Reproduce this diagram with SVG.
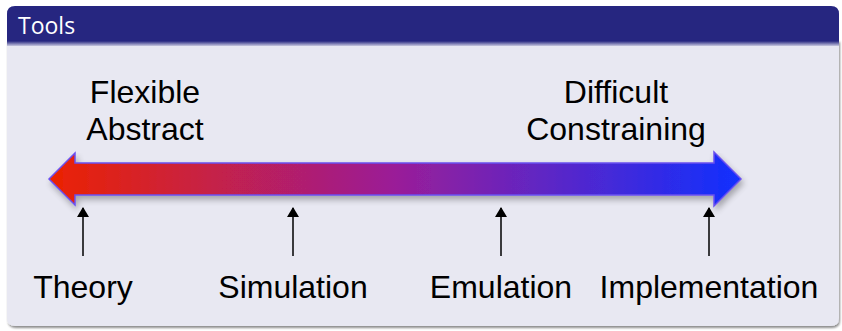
<svg xmlns="http://www.w3.org/2000/svg" width="842" height="331" viewBox="0 0 842 331">
  <defs>
    <linearGradient id="arrowGrad" x1="48" y1="0" x2="742" y2="0" gradientUnits="userSpaceOnUse">
      <stop offset="0" stop-color="#EC2200"/>
      <stop offset="0.5" stop-color="#9A1E98"/>
      <stop offset="1" stop-color="#1030FF"/>
    </linearGradient>
    <linearGradient id="headerEdge" x1="0" y1="0" x2="0" y2="1">
      <stop offset="0" stop-color="#262680"/>
      <stop offset="1" stop-color="#C8C8E0"/>
    </linearGradient>
    <filter id="shadow" x="-5%" y="-5%" width="110%" height="130%">
      <feGaussianBlur in="SourceAlpha" stdDeviation="3"/>
      <feOffset dx="2" dy="4" result="b"/>
      <feComponentTransfer><feFuncA type="linear" slope="0.3"/></feComponentTransfer>
      <feMerge><feMergeNode/><feMergeNode in="SourceGraphic"/></feMerge>
    </filter>
    <filter id="boxShadow" x="-2%" y="-2%" width="104%" height="106%">
      <feGaussianBlur in="SourceAlpha" stdDeviation="1"/>
      <feOffset dx="1" dy="2"/>
      <feComponentTransfer><feFuncA type="linear" slope="0.45"/></feComponentTransfer>
      <feMerge><feMergeNode/><feMergeNode in="SourceGraphic"/></feMerge>
    </filter>
    <marker id="tip" viewBox="0 0 10 12" refX="9" refY="6" markerWidth="10" markerHeight="12" markerUnits="userSpaceOnUse" orient="auto">
      <path d="M0,0 L10,6 L0,12 Z" fill="#000"/>
    </marker>
  </defs>
  <style>
    .lbl { font-family: "Liberation Sans", Arial, sans-serif; font-size: 32px; fill: #000; text-anchor: middle; }
    .title { font-family: "Open Sans", "DejaVu Sans", sans-serif; font-size: 23px; fill: #fff; }
    .pointer { stroke: #000; stroke-width: 1.5; fill: none; marker-end: url(#tip); }
  </style>
  <rect width="842" height="331" fill="#fff"/>

  <g id="block">
    <path d="M7,40 L839,40 L839,318 Q839,326 831,326 L15,326 Q7,326 7,318 Z" fill="#E8E8F2" filter="url(#boxShadow)"/>
    <path d="M7,43 L7,14 Q7,6 15,6 L831,6 Q839,6 839,14 L839,43 Z" fill="#262680"/>
    <rect x="7" y="41" width="832" height="5" fill="url(#headerEdge)"/>
    <text class="title" x="18" y="34">Tools</text>
  </g>

  <g id="spectrum" filter="url(#shadow)">
    <path d="M49,179 L75,153 L75,163 L714,163 L714,152 L741,179 L714,206 L714,195 L75,195 L75,205 Z" fill="url(#arrowGrad)" stroke="#6A50F0" stroke-width="1.5" stroke-linejoin="miter"/>
  </g>

  <g id="label-flexible">
    <text class="lbl" x="145" y="103">Flexible</text>
    <text class="lbl" x="145" y="140">Abstract</text>
  </g>
  <g id="label-difficult">
    <text class="lbl" x="616" y="103">Difficult</text>
    <text class="lbl" x="616" y="140">Constraining</text>
  </g>

  <g id="node-theory"><text class="lbl" x="83" y="298">Theory</text></g>
  <g id="node-simulation"><text class="lbl" x="293" y="298">Simulation</text></g>
  <g id="node-emulation"><text class="lbl" x="501" y="298">Emulation</text></g>
  <g id="node-implementation"><text class="lbl" x="709" y="298">Implementation</text></g>

  <g id="connectors">
    <line class="pointer" x1="83" y1="256" x2="83" y2="208"/>
    <line class="pointer" x1="293" y1="256" x2="293" y2="208"/>
    <line class="pointer" x1="501" y1="256" x2="501" y2="208"/>
    <line class="pointer" x1="709" y1="256" x2="709" y2="208"/>
  </g>
</svg>
